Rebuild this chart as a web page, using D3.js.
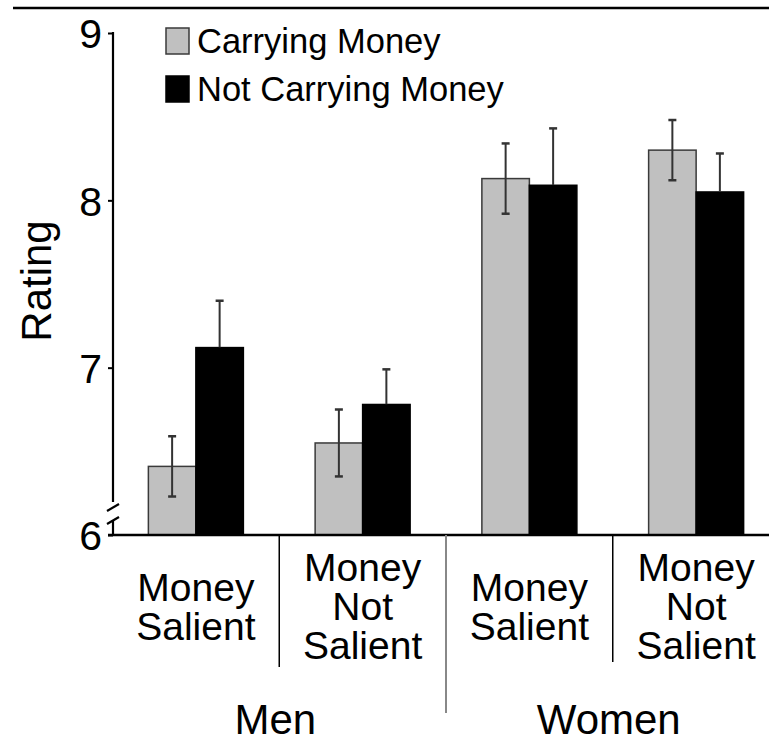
<!DOCTYPE html>
<html>
<head>
<meta charset="utf-8">
<script src="https://cdn.jsdelivr.net/npm/d3@7"></script>
<style>
  body { margin: 0; background: #fff; }
  text { font-family: "Liberation Sans", Arial, Helvetica, sans-serif; fill: #000; }
</style>
</head>
<body>
<script>
// data
var conditions = ["Money Salient", "Money Not Salient", "Money Salient", "Money Not Salient"];
var conditionLines = [["Money", "Salient"], ["Money", "Not", "Salient"], ["Money", "Salient"], ["Money", "Not", "Salient"]];
var genders = ["Men", "Women"];
var seriesNames = ["Carrying Money", "Not Carrying Money"];
var carrying = [6.41, 6.55, 8.13, 8.30];
var carryingErr = [0.18, 0.20, 0.21, 0.18];
var notCarrying = [7.12, 6.78, 8.09, 8.05];
var notCarryingErr = [0.28, 0.21, 0.34, 0.23];
var yTicks = [6, 7, 8, 9];

// canvas and positioning magic numbers
var w = 769, h = 745;
var baseY = 535, topY = 33;
var axisX = 113;
var barW = 47.5;
var grayFill = "#c0c0c0";

var svg = d3.select("body").append("svg")
    .attr("width", w)
    .attr("height", h);

var y = d3.scaleLinear().domain([6, 9]).range([baseY, topY]);

var x = d3.scaleBand()
    .domain(d3.range(conditions.length))
    .range([112.5, 779.5])
    .padding(0);

var x1 = d3.scaleBand()
    .domain([0, 1])
    .range([x.bandwidth() / 2 - barW, x.bandwidth() / 2 + barW]);

// top rule
svg.append("line")
    .attr("x1", 13).attr("x2", w)
    .attr("y1", 8).attr("y2", 8)
    .attr("stroke", "#000").attr("stroke-width", 2.5);

// bars
var rows = conditions.map(function(c, i) {
    return [
        {i: i, s: 0, v: carrying[i], e: carryingErr[i]},
        {i: i, s: 1, v: notCarrying[i], e: notCarryingErr[i]}
    ];
});

var groups = svg.append("g").selectAll("g")
    .data(rows)
    .enter().append("g")
    .attr("transform", function(d, i) { return "translate(" + x(i) + ",0)"; });

groups.selectAll("rect")
    .data(function(d) { return d; })
    .enter().append("rect")
    .attr("x", function(d) { return x1(d.s); })
    .attr("y", function(d) { return y(d.v); })
    .attr("width", x1.bandwidth())
    .attr("height", function(d) { return y(6) - y(d.v); })
    .attr("fill", function(d) { return d.s === 0 ? grayFill : "#000"; })
    .attr("stroke", function(d) { return d.s === 0 ? "#3a3a3a" : "#000"; })
    .attr("stroke-width", 1.5);

// error bars: the part inside a black bar is black too, so it disappears
var cx = function(d) { return x1(d.s) + x1.bandwidth() / 2; };
var err = groups.selectAll("g.err")
    .data(function(d) { return d; })
    .enter().append("g")
    .attr("class", "err")
    .attr("stroke-width", 2);

err.append("line")
    .attr("stroke", "#333")
    .attr("x1", cx).attr("x2", cx)
    .attr("y1", function(d) { return y(d.v); })
    .attr("y2", function(d) { return y(d.v + d.e); });

err.append("line")
    .attr("stroke", function(d) { return d.s === 0 ? "#333" : "#000"; })
    .attr("x1", cx).attr("x2", cx)
    .attr("y1", function(d) { return y(d.v - d.e); })
    .attr("y2", function(d) { return y(d.v); });

err.append("line")
    .attr("stroke", "#333")
    .attr("x1", function(d) { return cx(d) - 4; })
    .attr("x2", function(d) { return cx(d) + 4; })
    .attr("y1", function(d) { return y(d.v + d.e); })
    .attr("y2", function(d) { return y(d.v + d.e); })
    .attr("stroke-width", 2.5);

err.append("line")
    .attr("stroke", function(d) { return d.s === 0 ? "#333" : "#000"; })
    .attr("x1", function(d) { return cx(d) - 4; })
    .attr("x2", function(d) { return cx(d) + 4; })
    .attr("y1", function(d) { return y(d.v - d.e); })
    .attr("y2", function(d) { return y(d.v - d.e); })
    .attr("stroke-width", 2.5);

// y axis (ticks and labels from d3, axis line drawn by hand for the break)
var yAxis = svg.append("g")
    .attr("transform", "translate(" + axisX + ",0)")
    .call(d3.axisLeft(y).tickValues(yTicks).tickSize(5).tickPadding(6).tickFormat(d3.format("d")));
yAxis.select(".domain").remove();
yAxis.selectAll(".tick line").attr("stroke", "#000").attr("stroke-width", 2);
yAxis.selectAll(".tick text")
    .attr("font-size", 41)
    .attr("font-family", "'Liberation Sans', Arial, sans-serif")
    .attr("dy", "0.36em")
    .attr("fill", "#000");

var axisLines = svg.append("g")
    .attr("stroke", "#000")
    .attr("stroke-width", 2.2)
    .attr("fill", "none");
axisLines.append("line")
    .attr("x1", axisX).attr("x2", axisX)
    .attr("y1", y(9) - 1).attr("y2", 502);
axisLines.append("path").attr("d", "M" + (axisX - 6) + ",511 L" + (axisX + 6) + ",504");
axisLines.append("path").attr("d", "M" + (axisX - 6) + ",524 L" + (axisX + 6) + ",517");
axisLines.append("line")
    .attr("x1", axisX).attr("x2", axisX)
    .attr("y1", 520).attr("y2", baseY);

// baseline
svg.append("line")
    .attr("x1", 108).attr("x2", w)
    .attr("y1", baseY).attr("y2", baseY)
    .attr("stroke", "#000").attr("stroke-width", 2.5);

// separators under the axis
var seps = [
    {x: x(1), y2: 667, c: "#000", sw: 1.5},
    {x: x(2), y2: 713, c: "#888", sw: 2},
    {x: x(3), y2: 662, c: "#000", sw: 1.5}
];
svg.append("g").selectAll("line")
    .data(seps)
    .enter().append("line")
    .attr("x1", function(d) { return d.x; })
    .attr("x2", function(d) { return d.x; })
    .attr("y1", baseY)
    .attr("y2", function(d) { return d.y2; })
    .attr("stroke", function(d) { return d.c; })
    .attr("stroke-width", function(d) { return d.sw; });

// condition labels
var lineH = 39, labelMid = 620;
svg.append("g").selectAll("text")
    .data(conditionLines)
    .enter().append("text")
    .attr("text-anchor", "middle")
    .attr("font-size", 39)
    .attr("transform", function(d, i) { return "translate(" + (x(i) + x.bandwidth() / 2) + ",0)"; })
    .each(function(lines) {
        var t = d3.select(this);
        var first = labelMid - (lines.length - 1) * lineH / 2;
        lines.forEach(function(l, k) {
            t.append("tspan").attr("x", 0).attr("y", first + k * lineH).text(l);
        });
    });

// gender labels
svg.append("g").selectAll("text")
    .data(genders)
    .enter().append("text")
    .attr("text-anchor", "middle")
    .attr("font-size", 42)
    .attr("x", function(d, i) { return x(i * 2 + 1) - 4; })
    .attr("y", 734)
    .text(function(d) { return d; });

// y title
svg.append("text")
    .attr("transform", "translate(51,281) rotate(-90)")
    .attr("text-anchor", "middle")
    .attr("font-size", 42)
    .text("Rating");

// legend
var legend = svg.append("g").selectAll("g")
    .data(seriesNames)
    .enter().append("g")
    .attr("transform", function(d, i) { return "translate(166," + (28 + i * 48) + ")"; });
legend.append("rect")
    .attr("width", 23).attr("height", 26)
    .attr("fill", function(d, i) { return i === 0 ? grayFill : "#000"; })
    .attr("stroke", function(d, i) { return i === 0 ? "#3a3a3a" : "#000"; })
    .attr("stroke-width", 1.5);
legend.append("text")
    .attr("x", 31)
    .attr("y", 25)
    .attr("font-size", 34.5)
    .text(function(d) { return d; });
</script>
</body>
</html>
